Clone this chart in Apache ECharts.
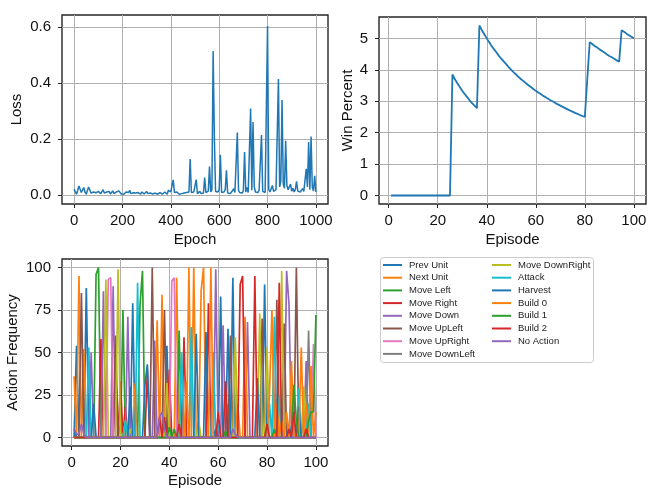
<!DOCTYPE html>
<html lang="en">
<head>
  <meta charset="UTF-8">
  <title>training_curves</title>
  <script src="https://cdn.jsdelivr.net/npm/echarts@6/dist/echarts.min.js"></script>
  <style>
    *{
      margin:0;
      padding:0;
    }
    body{
      width: 664px;
      height: 497px;
      background: #fff;
    }
    .container{
      width: 664px;
      height: 497px;
    }
  </style>
</head>
<body>
  <div class="container"></div>

  <script type="text/javascript">
    // loss, one reading every 5 epochs from 0 to 1000
    var lossStep = 5
    var lossValues = [
      0.022,0.012,0.004,0.018,0.033,0.035,0.010,0.006,0.028,0.012,
      0.004,0.010,0.030,0.028,0.008,0.004,0.012,0.006,0.009,0.004,
      0.014,0.018,0.006,0.010,0.020,0.008,0.004,0.012,0.006,0.014,
      0.005,0.010,0.016,0.006,0.004,0.012,0.008,0.016,0.012,0.005,
      0.010,0.004,0.008,0.012,0.006,0.010,0.018,0.006,0.004,0.009,
      0.005,0.008,0.003,0.010,0.006,0.004,0.012,0.008,0.005,0.011,
      0.014,0.006,0.012,0.008,0.014,0.005,0.004,0.008,0.006,0.004,
      0.007,0.010,0.005,0.004,0.008,0.012,0.006,0.004,0.018,0.022,
      0.012,0.035,0.055,0.010,0.006,0.012,0.008,0.004,0.010,0.006,
      0.012,0.008,0.005,0.010,0.006,0.012,0.130,0.010,0.006,0.012,
      0.008,0.056,0.006,0.010,0.014,0.006,0.012,0.008,0.063,0.010,
      0.006,0.015,0.103,0.012,0.020,0.515,0.210,0.014,0.008,0.012,
      0.020,0.145,0.010,0.006,0.012,0.020,0.089,0.008,0.014,0.006,
      0.012,0.016,0.024,0.010,0.008,0.224,0.018,0.010,0.014,0.008,
      0.016,0.155,0.012,0.028,0.010,0.014,0.310,0.018,0.262,0.030,
      0.012,0.016,0.010,0.018,0.012,0.215,0.014,0.018,0.010,0.016,
      0.605,0.020,0.012,0.018,0.035,0.014,0.010,0.020,0.016,0.415,
      0.030,0.050,0.340,0.040,0.025,0.195,0.035,0.020,0.030,0.040,
      0.015,0.025,0.012,0.020,0.050,0.015,0.022,0.012,0.018,0.024,
      0.014,0.020,0.095,0.030,0.190,0.020,0.210,0.030,0.015,0.070,
      0.012
    ]

    // win percent for episodes 1..100
    var winValues = [
      0,0,0,0,0,0,0,0,0,0,
      0,0,0,0,0,0,0,0,0,0,
      0,0,0,0,0,3.85,3.70,3.57,3.45,3.33,
      3.23,3.13,3.03,2.94,2.86,2.78,5.41,5.26,5.13,5.00,
      4.88,4.76,4.65,4.55,4.44,4.35,4.26,4.17,4.08,4.00,
      3.92,3.85,3.77,3.70,3.64,3.57,3.51,3.45,3.39,3.33,
      3.28,3.23,3.17,3.13,3.08,3.03,2.99,2.94,2.90,2.86,
      2.82,2.78,2.74,2.70,2.67,2.63,2.60,2.56,2.53,2.50,
      3.70,4.88,4.82,4.76,4.71,4.65,4.60,4.55,4.49,4.44,
      4.40,4.35,4.30,4.26,5.26,5.21,5.15,5.10,5.05,5.00
    ]

    // action frequency, [episode, value]; episodes not listed are 0
    var actionNames = ['Prev Unit','Next Unit','Move Left','Move Right','Move Down','Move UpLeft','Move UpRight','Move DownLeft',
      'Move DownRight','Attack','Harvest','Build 0','Build 1','Build 2','No Action']
    var prevUnit = [[2,54],[6,88],[25,79],[39,54],[61,83],[66,94],[79,90]]
    var nextUnit = [[1,36],[3,95],[5,52],[20,8],[26,32],[35,69],[37,84],[40,12],[43,94],[48,100],[50,100],[53,86],[54,100],[64,20]]
    var moveLeft = [[10,96],[11,100],[21,75],[28,78],[29,98],[44,63]]
    var moveRight = [[12,58],[18,40],[20,33],[22,18],[31,40],[40,40],[46,59],[56,79]]
    var moveDown = [[8,50],[13,86],[17,89],[23,71],[34,57],[59,99],[62,66],[72,68],[88,98],[89,78],[96,45]]
    var moveUpLeft = [[4,85],[18,60],[33,100],[38,75],[65,60],[78,70],[84,81],[87,67],[92,100]]
    var moveUpRight = [[15,93],[16,94],[41,92],[42,94],[99,55]]
    var moveDownLeft = [[95,10],[97,63]]
    var moveDownRight = [[14,93],[19,99],[22,10],[24,5],[39,32],[52,10],[67,59],[77,73],[80,53],[86,98],[95,30]]
    var attack = [[7,53],[22,10],[27,91],[45,50],[49,65],[58,50],[60,8],[81,20],[83,71],[85,25],[93,29],[97,20]]
    var harvest = [[1,5],[9,20],[24,30],[30,31],[31,43],[51,61],[55,62],[59,5],[64,64],[76,35],[89,8],[93,18]]
    var build0 = [[47,33],[57,100],[68,20],[71,71],[81,25],[82,75],[84,20],[86,10],[88,15],[90,45],[94,53],[96,20],[98,42],[100,15]]
    var build1 = [[40,6],[42,5],[63,4],[83,5],[91,31],[92,10],[97,10],[98,15],[99,15],[100,72]]
    var build2 = [[36,12],[38,12],[44,8],[60,15],[63,33],[69,90],[70,95],[75,95],[80,8],[85,91],[89,5],[91,15],[96,5]]
    var noAction = [[1,5],[2,2],[3,2],[4,8],[5,2],[36,12],[37,15],[38,5],[66,5],[67,2]]
    var actionPeaks = [prevUnit,nextUnit,moveLeft,moveRight,moveDown,moveUpLeft,moveUpRight,moveDownLeft,
      moveDownRight,attack,harvest,build0,build1,build2,noAction]

    var tab10 = ['#1f77b4','#ff7f0e','#2ca02c','#d62728','#9467bd','#8c564b','#e377c2','#7f7f7f','#bcbd22','#17becf']
    var font = 'Liberation Sans'
    var ink = '#262626'

    function valueAxis(gridIndex, min, max, ticks, name, nameGap, margin, fmt){
      return {
        type:'value',
        gridIndex:gridIndex,
        min:min,
        max:max,
        name:name,
        nameLocation:'middle',
        nameGap:nameGap,
        nameTextStyle:{fontFamily:font,fontSize:15,color:'#111'},
        axisLine:{show:false,onZero:false},
        axisTick:{show:true,length:4,customValues:ticks,lineStyle:{color:ink,width:1}},
        axisLabel:{customValues:ticks,margin:margin,fontFamily:font,fontSize:15,color:'#111',formatter:fmt || (v=>String(v))},
        splitLine:{show:true,lineStyle:{color:'#b0b0b0',width:1}}
      }
    }

    var lossData = lossValues.map((v,i)=>[i*lossStep,v])
    var winData = winValues.map((v,i)=>[i+1,v])

    var actionSeries = actionPeaks.map((peaks,k)=>{
      var full = []
      for(var ep=1;ep<=100;ep++) full.push([ep,0])
      peaks.forEach(p=>{ full[p[0]-1][1] = p[1] })
      return {
        name:actionNames[k],
        type:'line',
        xAxisIndex:2,
        yAxisIndex:2,
        data:full,
        showSymbol:false,
        color:tab10[k%10],
        lineStyle:{width:1.7},
        emphasis:{disabled:true}
      }
    })

    const mCharts=echarts.init(document.querySelector('.container'))
    var legendText = {fontFamily:font,fontSize:9.5,lineHeight:10,color:'#222',padding:[0,0,0,2]}
    var option={
      animation:false,
      backgroundColor:'#fff',
      grid:[
        {left:62,top:15,width:266,height:189,show:true,borderColor:ink,borderWidth:1.4,containLabel:false},
        {left:379,top:17,width:267,height:187,show:true,borderColor:ink,borderWidth:1.4,containLabel:false},
        {left:62,top:259,width:266,height:187,show:true,borderColor:ink,borderWidth:1.4,containLabel:false}
      ],
      xAxis:[
        valueAxis(0,-50,1050,[0,200,400,600,800,1000],'Epoch',28,9),
        valueAxis(1,-3.95,104.95,[0,20,40,60,80,100],'Episode',28,9),
        valueAxis(2,-3.95,104.95,[0,20,40,60,80,100],'Episode',27,9)
      ],
      yAxis:[
        valueAxis(0,-0.031,0.644,[0,0.2,0.4,0.6],'Loss',38,11,v=>v.toFixed(1)),
        valueAxis(1,-0.27,5.68,[0,1,2,3,4,5],'Win Percent',24,11),
        valueAxis(2,-5,105,[0,25,50,75,100],'Action Frequency',42,11)
      ],
      legend:[
        {
          data:actionNames.slice(0,8),
          orient:'vertical',
          left:383,
          top:260,
          padding:0,
          itemGap:2.7,
          itemWidth:19,
          itemHeight:2,
          icon:'rect',
          selectedMode:false,
          textStyle:legendText
        },
        {
          data:actionNames.slice(8),
          orient:'vertical',
          left:492,
          top:260,
          padding:0,
          itemGap:2.7,
          itemWidth:19,
          itemHeight:2,
          icon:'rect',
          selectedMode:false,
          textStyle:legendText
        }
      ],
      graphic:[
        {
          type:'rect',
          shape:{x:380.5,y:257.5,width:213,height:105,r:3},
          style:{fill:'rgba(255,255,255,0.8)',stroke:'#cccccc',lineWidth:1},
          z:-1
        }
      ],
      series:[
        {
          type:'line',
          xAxisIndex:0,
          yAxisIndex:0,
          data:lossData,
          showSymbol:false,
          color:tab10[0],
          lineStyle:{width:1.5},
          emphasis:{disabled:true}
        },
        {
          type:'line',
          xAxisIndex:1,
          yAxisIndex:1,
          data:winData,
          showSymbol:false,
          color:tab10[0],
          lineStyle:{width:1.8},
          emphasis:{disabled:true}
        }
      ].concat(actionSeries)
    }
    mCharts.setOption(option)
  </script>
</body>
</html>
